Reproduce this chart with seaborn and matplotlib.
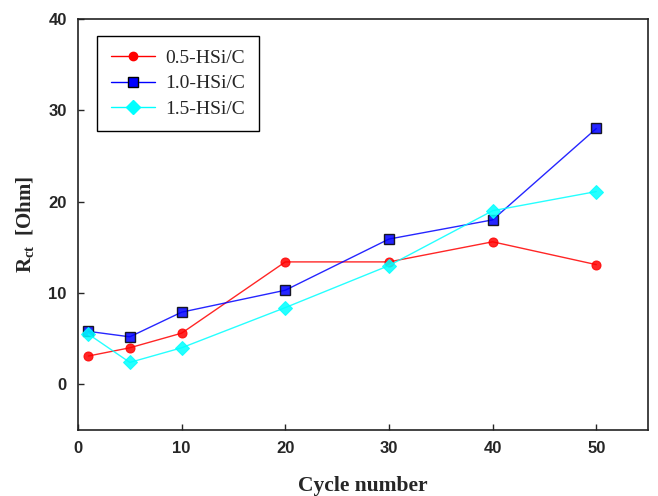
import pandas as pd
import matplotlib
matplotlib.use("Agg")
import matplotlib.pyplot as plt
import seaborn as sns

# data
cycles = [1, 5, 10, 20, 30, 40, 50]
rct_05 = [3.1, 4.0, 5.6, 13.4, 13.4, 15.6, 13.1]
rct_10 = [5.8, 5.2, 7.9, 10.3, 15.9, 18.0, 28.0]
rct_15 = [5.5, 2.4, 4.0, 8.4, 13.0, 19.0, 21.1]
labels = ["0.5-HSi/C", "1.0-HSi/C", "1.5-HSi/C"]

df = pd.concat([
    pd.DataFrame({"cycle": cycles, "rct": vals, "sample": lab})
    for lab, vals in zip(labels, [rct_05, rct_10, rct_15])
])

sns.set_theme(style="white")
plt.rcParams["font.family"] = ["Liberation Sans", "DejaVu Sans"]
plt.rcParams["mathtext.fontset"] = "custom"
plt.rcParams["mathtext.rm"] = "Liberation Serif:bold"
plt.rcParams["mathtext.bf"] = "Liberation Serif:bold"
plt.rcParams["mathtext.it"] = "Liberation Serif:bold"

fig = plt.figure(figsize=(6.58, 4.96), dpi=100)
ax = fig.add_axes([0.1185, 0.133, 0.8665, 0.829])

palette = {"0.5-HSi/C": "#ff0000", "1.0-HSi/C": "#0000ff", "1.5-HSi/C": "#00ffff"}
markers = {"0.5-HSi/C": "o", "1.0-HSi/C": "s", "1.5-HSi/C": "D"}

sns.lineplot(data=df, x="cycle", y="rct", hue="sample", style="sample",
             palette=palette, markers=markers, dashes=False, ax=ax,
             linewidth=1.0, markersize=7, legend=False)

# marker edges like the original
for line, lab in zip(ax.lines, labels):
    line.set_alpha(0.85)
    if lab == "1.0-HSi/C":
        line.set_markeredgecolor("black")
        line.set_markeredgewidth(1.0)
        line.set_markersize(7)
    elif lab == "1.5-HSi/C":
        line.set_markeredgecolor("#00ffff")
        line.set_markersize(7.5)
    else:
        line.set_markeredgecolor("#ff0000")
        line.set_markersize(6.5)

handles = [plt.Line2D([], [], color=palette[l], marker=markers[l], lw=1.0,
                      markersize={"0.5-HSi/C": 6, "1.0-HSi/C": 7, "1.5-HSi/C": 7.5}[l],
                      markeredgecolor="black" if l == "1.0-HSi/C" else palette[l])
           for l in labels]
leg = ax.legend(handles, labels, loc="upper left", bbox_to_anchor=(0.0333, 0.9586),
                borderaxespad=0, frameon=True, fancybox=False, edgecolor="black",
                framealpha=1, prop={"family": "Liberation Serif", "size": 14},
                handlelength=2.3, handletextpad=0.5, borderpad=0.7,
                labelspacing=0.4)
leg.get_frame().set_linewidth(1.0)

ax.set_xlim(0, 55)
ax.set_ylim(-5, 40)
ax.set_xticks([0, 10, 20, 30, 40, 50])
ax.set_yticks([0, 10, 20, 30, 40])
ax.tick_params(direction="in", length=4, width=1, top=False, right=False,
               left=True, bottom=True, labelsize=12, pad=8)
for t in ax.get_xticklabels() + ax.get_yticklabels():
    t.set_fontweight("bold")
for s in ax.spines.values():
    s.set_color("#222222")
    s.set_linewidth(1.2)

ax.set_xlabel("Cycle number", family="Liberation Serif", fontweight="bold",
              fontsize=15.5, labelpad=14)
ax.set_ylabel(r"R$_{\rm ct}$  [Ohm]", family="Liberation Serif", fontweight="bold",
              fontsize=15, labelpad=9)

fig.savefig("out.png", dpi=100)
